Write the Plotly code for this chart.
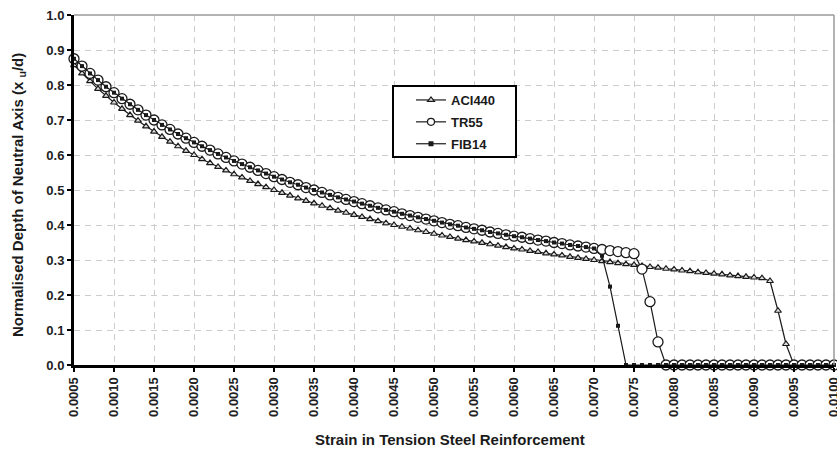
import plotly.graph_objects as go

strain = [
    0.0005, 0.0006, 0.0007, 0.0008, 0.0009, 0.0010, 0.0011, 0.0012, 0.0013, 0.0014,
    0.0015, 0.0016, 0.0017, 0.0018, 0.0019, 0.0020, 0.0021, 0.0022, 0.0023, 0.0024,
    0.0025, 0.0026, 0.0027, 0.0028, 0.0029, 0.0030, 0.0031, 0.0032, 0.0033, 0.0034,
    0.0035, 0.0036, 0.0037, 0.0038, 0.0039, 0.0040, 0.0041, 0.0042, 0.0043, 0.0044,
    0.0045, 0.0046, 0.0047, 0.0048, 0.0049, 0.0050, 0.0051, 0.0052, 0.0053, 0.0054,
    0.0055, 0.0056, 0.0057, 0.0058, 0.0059, 0.0060, 0.0061, 0.0062, 0.0063, 0.0064,
    0.0065, 0.0066, 0.0067, 0.0068, 0.0069, 0.0070, 0.0071, 0.0072, 0.0073, 0.0074,
    0.0075, 0.0076, 0.0077, 0.0078, 0.0079, 0.0080, 0.0081, 0.0082, 0.0083, 0.0084,
    0.0085, 0.0086, 0.0087, 0.0088, 0.0089, 0.0090, 0.0091, 0.0092, 0.0093, 0.0094,
    0.0095, 0.0096, 0.0097, 0.0098, 0.0099, 0.0100,
]

aci440 = [
    0.857, 0.833, 0.811, 0.789, 0.769, 0.750, 0.732, 0.714, 0.698, 0.682,
    0.667, 0.652, 0.638, 0.625, 0.612, 0.600, 0.588, 0.577, 0.566, 0.556,
    0.545, 0.536, 0.526, 0.517, 0.508, 0.500, 0.492, 0.484, 0.476, 0.469,
    0.462, 0.455, 0.448, 0.441, 0.435, 0.429, 0.423, 0.417, 0.411, 0.405,
    0.400, 0.395, 0.390, 0.385, 0.380, 0.375, 0.370, 0.366, 0.361, 0.357,
    0.353, 0.349, 0.345, 0.341, 0.337, 0.333, 0.330, 0.326, 0.323, 0.319,
    0.316, 0.313, 0.309, 0.306, 0.303, 0.300, 0.297, 0.294, 0.291, 0.288,
    0.286, 0.283, 0.280, 0.278, 0.275, 0.273, 0.270, 0.268, 0.265, 0.263,
    0.261, 0.259, 0.256, 0.254, 0.252, 0.250, 0.248, 0.240, 0.155, 0.060,
    0, 0, 0, 0, 0, 0,
]

tr55 = [
    0.875, 0.854, 0.833, 0.814, 0.795, 0.778, 0.761, 0.745, 0.729, 0.714,
    0.700, 0.686, 0.673, 0.660, 0.648, 0.636, 0.625, 0.614, 0.603, 0.593,
    0.583, 0.574, 0.565, 0.556, 0.547, 0.538, 0.530, 0.522, 0.515, 0.507,
    0.500, 0.493, 0.486, 0.479, 0.473, 0.467, 0.461, 0.455, 0.449, 0.443,
    0.438, 0.432, 0.427, 0.422, 0.417, 0.412, 0.407, 0.402, 0.398, 0.393,
    0.389, 0.385, 0.380, 0.376, 0.372, 0.368, 0.365, 0.361, 0.357, 0.354,
    0.350, 0.347, 0.343, 0.340, 0.337, 0.333, 0.330, 0.327, 0.324, 0.321,
    0.318, 0.274, 0.181, 0.066, 0, 0, 0, 0, 0, 0,
    0, 0, 0, 0, 0, 0, 0, 0, 0, 0,
    0, 0, 0, 0, 0, 0,
]

fib14 = [
    0.875, 0.854, 0.833, 0.814, 0.795, 0.778, 0.761, 0.745, 0.729, 0.714,
    0.700, 0.686, 0.673, 0.660, 0.648, 0.636, 0.625, 0.614, 0.603, 0.593,
    0.583, 0.574, 0.565, 0.556, 0.547, 0.538, 0.530, 0.522, 0.515, 0.507,
    0.500, 0.493, 0.486, 0.479, 0.473, 0.467, 0.461, 0.455, 0.449, 0.443,
    0.438, 0.432, 0.427, 0.422, 0.417, 0.412, 0.407, 0.402, 0.398, 0.393,
    0.389, 0.385, 0.380, 0.376, 0.372, 0.368, 0.365, 0.361, 0.357, 0.354,
    0.350, 0.347, 0.343, 0.340, 0.337, 0.333, 0.312, 0.224, 0.112, 0,
    0, 0, 0, 0, 0, 0, 0, 0, 0, 0,
    0, 0, 0, 0, 0, 0, 0, 0, 0, 0,
    0, 0, 0, 0, 0, 0,
]

x_ticks = [
    0.0005, 0.0010, 0.0015, 0.0020, 0.0025, 0.0030, 0.0035, 0.0040, 0.0045, 0.0050,
    0.0055, 0.0060, 0.0065, 0.0070, 0.0075, 0.0080, 0.0085, 0.0090, 0.0095, 0.0100,
]
x_tick_labels = ["%.4f" % v for v in x_ticks]

y_ticks = [0.0, 0.1, 0.2, 0.3, 0.4, 0.5, 0.6, 0.7, 0.8, 0.9, 1.0]
y_tick_labels = ["%.1f" % v for v in y_ticks]

series_names = ["ACI440", "TR55", "FIB14"]

FONT = "Liberation Sans, Arial, sans-serif"
INK = "#1a1a1a"

fig = go.Figure()

styles = [
    (aci440, dict(symbol="triangle-up", size=6, color="#dddddd", line=dict(color=INK, width=1.2))),
    (tr55, dict(symbol="circle", size=10, color="white", line=dict(color=INK, width=1.3))),
    (fib14, dict(symbol="square", size=4, color=INK, line=dict(color=INK, width=0))),
]
legend_markers = [
    dict(symbol="triangle-up", size=6, color="#dddddd", line=dict(color=INK, width=1.2)),
    dict(symbol="circle", size=7, color="white", line=dict(color=INK, width=1.2)),
    dict(symbol="square", size=5, color=INK, line=dict(color=INK, width=0)),
]

for name, (vals, mk) in zip(series_names, styles):
    fig.add_trace(go.Scatter(
        x=strain, y=vals, mode="lines+markers", name=name,
        line=dict(color=INK, width=1.2), marker=mk,
        cliponaxis=False, showlegend=False,
    ))

for i, (name, mk) in enumerate(zip(series_names, legend_markers)):
    fig.add_trace(go.Scatter(
        x=[None], y=[None], mode="lines+markers", name=name,
        line=dict(color=INK, width=1.2), marker=mk,
        legendgroup="g%d" % i, showlegend=True,
    ))

L, R, T, B = 74, 3, 15, 85
W, H = 837, 450
pw = W - L - R
ph = H - T - B

def px_x(p):
    return (p - L) / pw

def px_y(p):
    return (H - B - p) / ph

fig.update_layout(
    width=W, height=H,
    margin=dict(l=L, r=R, t=T, b=B, autoexpand=False),
    paper_bgcolor="white", plot_bgcolor="white",
    font=dict(family=FONT, size=13, color=INK, weight="bold"),
    showlegend=True,
    legend=dict(
        x=px_x(411), y=px_y(85), xanchor="left", yanchor="top",
        bgcolor="rgba(0,0,0,0)", borderwidth=0,
        font=dict(family=FONT, size=13, color=INK, weight="bold"),
        tracegroupgap=2, itemwidth=30,
    ),
    xaxis=dict(
        range=[0.0005, 0.0100000001], tickmode="array",
        tickvals=x_ticks, ticktext=x_tick_labels, tickangle=-90,
        ticklabeloverflow="allow",
        showline=True, linewidth=3, linecolor="black",
        ticks="outside", ticklen=4, tickwidth=2, tickcolor="black",
        showgrid=True, gridcolor="#cccccc", gridwidth=1, griddash="6px,5px",
        zeroline=False, automargin=False,
        tickfont=dict(family=FONT, size=13, color="#222", weight="bold"),
    ),
    yaxis=dict(
        range=[0, 1.0], tickmode="array",
        tickvals=y_ticks, ticktext=y_tick_labels,
        showline=True, linewidth=3, linecolor="black",
        ticks="outside", ticklen=4, tickwidth=2, tickcolor="black",
        showgrid=True, gridcolor="#cccccc", gridwidth=1, griddash="6px,5px",
        zeroline=False, automargin=False,
        tickfont=dict(family=FONT, size=13, color="#222", weight="bold"),
    ),
    shapes=[
        dict(type="rect", xref="paper", yref="paper",
             x0=px_x(393), x1=px_x(516), y0=px_y(157), y1=px_y(86),
             line=dict(color="black", width=2), fillcolor="white", layer="above"),
        dict(type="line", xref="paper", yref="paper", x0=0, x1=1, y0=1, y1=1,
             line=dict(color="#9a9a9a", width=1.5), layer="above"),
        dict(type="line", xref="paper", yref="paper", x0=1, x1=1, y0=0, y1=1,
             line=dict(color="#9a9a9a", width=1.5), layer="above"),
    ],
    annotations=[
        dict(text="Strain in Tension Steel Reinforcement", xref="paper", yref="paper",
             x=px_x(450), y=px_y(439), xanchor="center", yanchor="middle",
             showarrow=False, font=dict(family=FONT, size=15, color=INK, weight="bold")),
        dict(text="Normalised Depth of Neutral Axis (x <sub>u</sub>/d)", xref="paper", yref="paper",
             x=px_x(19), y=px_y(195), xanchor="center", yanchor="middle", textangle=-90,
             showarrow=False, font=dict(family=FONT, size=15, color=INK, weight="bold")),
    ],
)

fig.write_html("out.html")
